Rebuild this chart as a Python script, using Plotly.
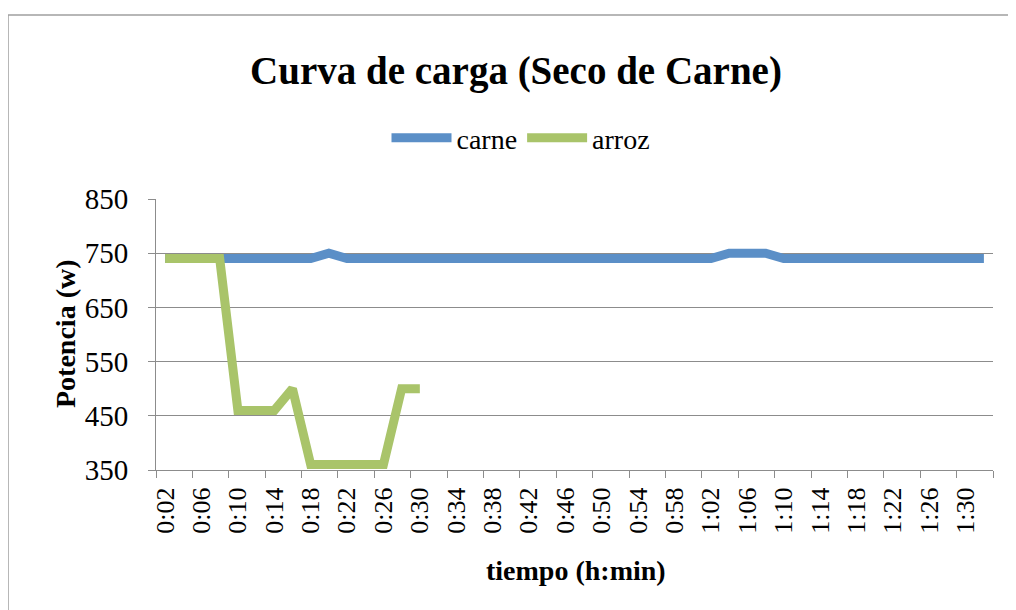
import plotly.graph_objects as go

tiempo = ["0:02", "0:04", "0:06", "0:08", "0:10", "0:12", "0:14", "0:16", "0:18", "0:20",
          "0:22", "0:24", "0:26", "0:28", "0:30", "0:32", "0:34", "0:36", "0:38", "0:40",
          "0:42", "0:44", "0:46", "0:48", "0:50", "0:52", "0:54", "0:56", "0:58", "1:00",
          "1:02", "1:04", "1:06", "1:08", "1:10", "1:12", "1:14", "1:16", "1:18", "1:20",
          "1:22", "1:24", "1:26", "1:28", "1:30", "1:32"]

carne = [740, 740, 740, 740, 740, 740, 740, 740, 740, 750,
         740, 740, 740, 740, 740, 740, 740, 740, 740, 740,
         740, 740, 740, 740, 740, 740, 740, 740, 740, 740,
         740, 750, 750, 750, 740, 740, 740, 740, 740, 740,
         740, 740, 740, 740, 740, 740]

arroz = [740, 740, 740, 740, 460, 460, 460, 500, 360, 360,
         360, 360, 360, 500, 500, None, None, None, None, None,
         None, None, None, None, None, None, None, None, None, None,
         None, None, None, None, None, None, None, None, None, None,
         None, None, None, None, None, None]

y_ticks = [350, 450, 550, 650, 750, 850]

W, H = 1016, 610
OFF = 8  # page body margin offset
# plot area in screen pixels: x 156..993, y 199..470
L = 156 - OFF
T = 199 - OFF
R = W - (993 - OFF)
B = H - (470 - OFF)
pw, ph = W - L - R, H - T - B

SERIF = "Liberation Serif, Times New Roman, serif"
BLUE = "rgb(91,143,199)"
GREEN = "rgb(169,196,106)"
GRID = "#8c8c8c"

fig = go.Figure()
fig.add_trace(go.Scatter(x=tiempo, y=carne, name="carne", mode="lines",
                         line=dict(color=BLUE, width=9)))
fig.add_trace(go.Scatter(x=tiempo, y=arroz, name="arroz", mode="lines",
                         line=dict(color=GREEN, width=9)))


def px_x(p):
    return (p - OFF - L) / pw


def px_y(p):
    return (H - B - (p - OFF)) / ph


def cx(p):
    return (p - OFF) / W


def cy(p):
    return 1 - (p - OFF) / H


fig.update_layout(
    width=W, height=H,
    margin=dict(l=L, r=R, t=T, b=B),
    paper_bgcolor="white", plot_bgcolor="white",
    font=dict(family=SERIF, size=28, color="black"),
    title=dict(text="<b>Curva de carga (Seco de Carne)</b>",
               font=dict(family=SERIF, size=39, color="black"),
               x=cx(516), xanchor="center", y=cy(70), yanchor="middle",
               xref="container", yref="container"),
    showlegend=True,
    legend=dict(orientation="h", xref="container", yref="container",
                x=cx(521), xanchor="center", y=cy(138), yanchor="middle",
                itemwidth=60, font=dict(family=SERIF, size=28, color="black"),
                bgcolor="rgba(0,0,0,0)", tracegroupgap=0),
    xaxis=dict(type="category", tickmode="linear", tick0=0, dtick=2,
               tickson="boundaries", ticks="outside", ticklen=7, tickcolor=GRID,
               tickangle=-90, showgrid=False, showline=True, linecolor=GRID,
               linewidth=1, tickfont=dict(family=SERIF, size=26),
               ticklabelstandoff=6, range=[-0.5, 45.5]),
    yaxis=dict(range=[350, 850], tickvals=y_ticks, ticks="outside", ticklen=7,
               tickcolor=GRID, showgrid=True, gridcolor=GRID, gridwidth=1,
               showline=True, linecolor=GRID, linewidth=1, zeroline=False,
               tickfont=dict(family=SERIF, size=29), ticklabelstandoff=14),
    annotations=[
        dict(text="<b>Potencia (w)</b>", xref="paper", yref="paper",
             x=px_x(65), y=px_y(334), textangle=-90, showarrow=False,
             xanchor="center", yanchor="middle",
             font=dict(family=SERIF, size=28, color="black")),
        dict(text="<b>tiempo (h:min)</b>", xref="paper", yref="paper",
             x=px_x(576), y=px_y(570), showarrow=False,
             xanchor="center", yanchor="middle",
             font=dict(family=SERIF, size=28, color="black")),
    ],
    shapes=[
        dict(type="rect", xref="paper", yref="paper",
             x0=px_x(8), x1=px_x(1040), y0=px_y(15), y1=px_y(660),
             line=dict(color="#a0a0a0", width=1.5), fillcolor="rgba(0,0,0,0)",
             layer="below"),
    ],
)

fig.write_html("out.html")
